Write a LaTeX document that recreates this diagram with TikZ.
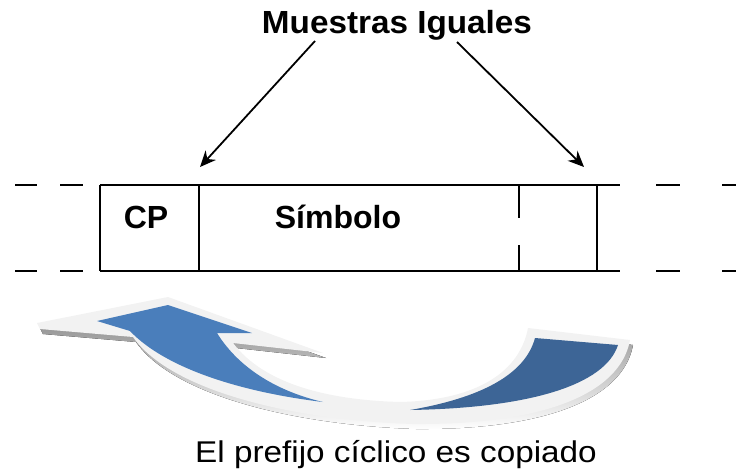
\documentclass[tikz,border=0pt]{standalone}
\usepackage{fontspec}
\setmainfont{Liberation Sans}
\newfontfamily\widefont[FakeStretch=1.11]{Liberation Sans}
\newfontfamily\titlefont[FakeStretch=1.04]{Liberation Sans}
\usepackage{tikz}
\usetikzlibrary{arrows.meta}
\usetikzlibrary{positioning}
\definecolor{lightblue}{RGB}{74,126,187}
\definecolor{darkblue}{RGB}{61,101,150}
\definecolor{bevel}{RGB}{242,242,242}
\definecolor{shade}{RGB}{140,152,172}

\begin{document}
\begin{tikzpicture}[x=1pt,y=-1pt,>={Stealth[length=16pt,width=14pt]},
  line width=1.6pt,
  big text/.style={font=\widefont\fontsize{30}{32}\selectfont,anchor=base},
  cell text/.style={font=\bfseries\fontsize{32}{34}\selectfont,anchor=base}]
  \useasboundingbox (0,0) rectangle (736,474);

  \node[anchor=base,font=\titlefont\bfseries\fontsize{32}{34}\selectfont] (title) at (397,33) {Muestras Iguales};
  \node[cell text] (cp) at (146,228) {CP};
  \node[cell text] (sym) at (338,228) {Símbolo};
  \node[big text] (caption) at (396,462) {El prefijo cíclico es copiado};

  \coordinate (l0) at (315,41);
  \coordinate (l1) at (200,167);
  \coordinate (r0) at (457,42);
  \coordinate (r1) at (584,167);
  \draw[->,line width=1.8pt] (l0) -- (l1);
  \draw[->,line width=1.8pt] (r0) -- (r1);

  % symbol box
  \draw (100,185) -- (620,185);
  \draw (100,271) -- (620,271);
  \draw (100,185) -- (100,271);
  \draw (199,185) -- (199,271);
  \draw (597,185) -- (597,271);
  \draw (519,185) -- (519,218);
  \draw (519,245) -- (519,271);
  \foreach \y in {185,271} {
    \draw[line width=1.3pt] (15,\y) -- (37,\y);
    \draw[line width=1.3pt] (60,\y) -- (83,\y);
    \draw[line width=1.3pt] (656,\y) -- (680,\y);
    \draw[line width=1.3pt] (722,\y) -- (736,\y);
  }

  % curved arrow
  \def\outline{(37,323) -- (168,297) -- (323,353) -- (233,343)
    .. controls (265,385) and (330,400) .. (400,402)
    .. controls (480,400) and (520,370) .. (528,328) -- (630,340)
    .. controls (620,395) and (540,425) .. (413,424)
    .. controls (290,420) and (170,390) .. (133,337) -- (40,329) -- cycle}
  \fill[shade,shift={(3,5)}] \outline;
  \fill[bevel] \outline;
  \fill[lightblue] (97,321) -- (168,305) -- (252,333) -- (217,333)
    .. controls (240,370) and (280,392) .. (323,402)
    .. controls (240,392) and (165,368) .. (130,331) -- cycle;
  \fill[darkblue] (535,338) -- (618,345)
    .. controls (605,385) and (530,408) .. (410,410)
    .. controls (480,398) and (525,375) .. (535,338) -- cycle;
\end{tikzpicture}
\end{document}
